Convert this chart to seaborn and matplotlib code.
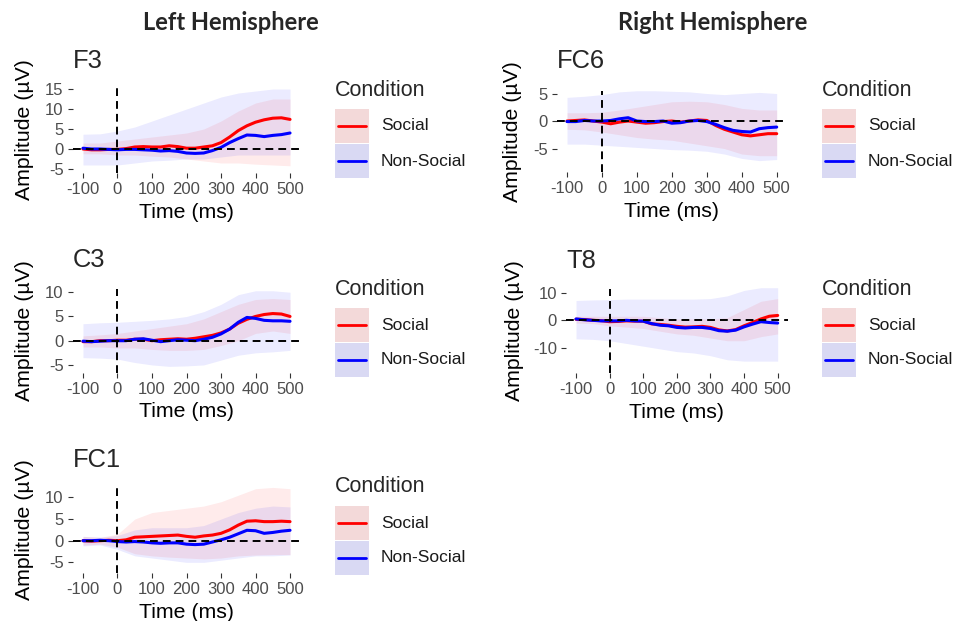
import numpy as np
import pandas as pd
import matplotlib
matplotlib.use('Agg')
import matplotlib.pyplot as plt
from matplotlib.patches import Rectangle
from matplotlib.lines import Line2D
import seaborn as sns

# tiempos (ms): medias cada 25 ms, bandas cada 50 ms
time_ms = list(range(-100, 501, 25))
band_ms = list(range(-100, 501, 50))

# F3
f3_social = [0.0, -0.2, -0.2, -0.1, -0.1, 0.1, 0.5, 0.6, 0.5, 0.5, 0.8, 0.6, 0.2,
             0.2, 0.5, 0.8, 1.6, 3.0, 4.6, 5.8, 6.7, 7.3, 7.7, 7.8, 7.4]
f3_nonsocial = [0.2, 0.0, 0.0, -0.1, -0.2, -0.1, -0.1, -0.2, -0.3, -0.5, -0.4, -0.6, -1.0,
                -1.1, -1.0, -0.4, 0.4, 1.6, 2.6, 3.5, 3.4, 3.1, 3.4, 3.6, 4.0]
f3_social_lo = [-1.2, -1.2, -1.5, -1.5, -1.8, -2.0, -2.5, -3.0, -3.5, -3.5, -3.8, -4.0, -4.2]
f3_social_hi = [1.5, 1.5, 2.0, 2.5, 3.0, 3.5, 4.0, 5.0, 7.0, 9.5, 11.5, 12.5, 12.5]
f3_nonsocial_lo = [-4.0, -4.0, -4.0, -3.5, -3.0, -2.8, -2.5, -2.5, -2.0, -1.5, -1.5, -1.5, -1.5]
f3_nonsocial_hi = [3.7, 3.8, 4.5, 5.5, 7.0, 8.5, 10.0, 11.5, 13.0, 14.0, 14.5, 15.0, 15.0]

# C3
c3_social = [-0.2, -0.2, 0.0, 0.0, 0.1, 0.1, 0.3, 0.3, 0.0, 0.2, 0.3, 0.4, 0.3,
             0.5, 0.8, 1.1, 1.6, 2.4, 3.6, 4.4, 5.0, 5.4, 5.6, 5.5, 5.0]
c3_nonsocial = [-0.1, -0.2, -0.1, 0.0, 0.0, 0.0, 0.3, 0.4, 0.1, -0.2, 0.0, 0.2, 0.1,
                0.0, 0.3, 0.7, 1.4, 2.4, 3.8, 4.8, 4.6, 4.2, 4.1, 4.1, 4.0]
c3_social_lo = [-1.3, -1.3, -1.5, -1.5, -1.8, -2.0, -2.0, -1.8, -1.0, 0.0, 1.5, 2.0, 1.5]
c3_social_hi = [1.0, 1.2, 1.5, 2.0, 2.5, 3.0, 3.5, 4.5, 6.0, 7.5, 8.5, 8.7, 8.5]
c3_nonsocial_lo = [-3.5, -3.6, -3.8, -4.5, -5.0, -5.3, -5.2, -5.0, -4.0, -3.0, -2.5, -2.3, -2.0]
c3_nonsocial_hi = [3.5, 3.7, 3.8, 4.0, 4.2, 4.5, 5.0, 6.0, 7.5, 9.5, 10.3, 10.3, 10.0]

# FC1
fc1_social = [0.0, -0.1, 0.0, 0.1, 0.0, 0.2, 0.8, 0.9, 1.0, 1.1, 1.2, 1.3, 1.0,
              0.8, 1.1, 1.3, 1.7, 2.5, 3.6, 4.5, 4.6, 4.4, 4.4, 4.5, 4.4]
fc1_nonsocial = [0.0, 0.0, 0.1, 0.0, -0.2, -0.3, -0.2, -0.3, -0.5, -0.6, -0.5, -0.5, -0.8,
                 -0.9, -0.8, -0.3, 0.2, 0.8, 1.6, 2.4, 2.3, 1.7, 1.9, 2.2, 2.4]
fc1_social_lo = [-1.0, -0.8, -1.5, -3.0, -3.5, -3.8, -4.0, -4.2, -4.0, -3.5, -3.3, -3.2, -3.2]
fc1_social_hi = [1.0, 0.8, 1.5, 5.0, 6.5, 7.0, 7.5, 8.0, 9.0, 10.5, 12.0, 12.3, 12.0]
fc1_nonsocial_lo = [-1.2, -1.0, -2.0, -3.5, -4.0, -4.5, -5.0, -5.0, -4.5, -4.0, -3.5, -3.5, -3.3]
fc1_nonsocial_hi = [1.0, 0.8, 1.2, 2.5, 3.0, 3.0, 3.0, 3.5, 5.0, 6.5, 7.5, 8.0, 7.8]

# FC6
fc6_social = [0.0, 0.1, 0.2, 0.0, -0.2, -0.5, -0.2, 0.0, -0.2, -0.4, -0.3, -0.1, 0.0,
              -0.2, 0.0, 0.2, 0.1, -0.8, -1.5, -2.0, -2.5, -2.7, -2.5, -2.3, -2.3]
fc6_nonsocial = [-0.1, -0.1, 0.1, 0.0, 0.0, 0.1, 0.4, 0.6, 0.0, -0.1, -0.1, 0.0, -0.4,
                 -0.3, 0.0, 0.1, -0.1, -0.6, -1.2, -1.7, -1.9, -2.0, -1.4, -1.2, -1.1]
fc6_social_lo = [-1.5, -1.6, -2.0, -2.5, -3.0, -3.3, -3.5, -4.0, -4.5, -5.0, -6.0, -6.3, -6.3]
fc6_social_hi = [1.5, 1.5, 1.6, 2.0, 2.5, 3.0, 3.5, 3.6, 3.5, 3.0, 2.3, 2.0, 2.0]
fc6_nonsocial_lo = [-4.2, -4.2, -4.4, -4.6, -4.8, -5.0, -5.2, -5.3, -5.5, -6.0, -6.8, -7.2, -7.0]
fc6_nonsocial_hi = [4.3, 4.5, 4.8, 5.3, 5.5, 5.5, 5.4, 5.3, 5.0, 4.8, 5.0, 5.2, 5.0]

# T8
t8_social = [0.4, 0.3, 0.0, -0.1, -0.5, -0.4, -0.2, -0.3, -0.3, -1.3, -1.5, -1.8, -2.2,
             -2.5, -2.4, -2.2, -2.6, -3.5, -3.9, -3.4, -2.0, -0.8, 0.5, 1.5, 1.8]
t8_nonsocial = [0.5, 0.2, 0.0, -0.2, -0.2, -0.2, 0.0, -0.2, -0.3, -1.2, -1.8, -2.0, -2.6,
                -2.8, -2.6, -2.6, -3.0, -3.8, -4.0, -3.6, -2.4, -1.4, -0.5, -0.8, -1.0]
t8_social_lo = [-1.0, -1.2, -2.0, -2.5, -3.0, -4.0, -5.0, -5.5, -6.5, -7.5, -7.5, -6.0, -5.0]
t8_social_hi = [1.5, 1.5, 1.5, 1.5, 1.5, 1.0, 0.5, 0.5, 0.5, 1.0, 4.0, 7.0, 8.0]
t8_nonsocial_lo = [-6.8, -7.0, -7.5, -8.5, -9.5, -10.5, -11.5, -12.0, -13.0, -14.5, -15.0, -15.0, -15.0]
t8_nonsocial_hi = [7.3, 7.5, 7.6, 7.8, 7.8, 7.8, 7.8, 7.8, 8.0, 9.0, 11.0, 12.0, 12.0]

conditions = ['Social', 'Non-Social']
colores = {'Social': 'red', 'Non-Social': 'blue'}

# posiciones en pixeles: (izq, arriba, der, abajo)
paneles = [
    ('F3', f3_social, f3_nonsocial, f3_social_lo, f3_social_hi, f3_nonsocial_lo, f3_nonsocial_hi,
     dict(box=(72.6, 87, 300.4, 173), ylim=(-6, 15.5), yticks=[-5, 0, 5, 10, 15],
          ylab_x=25, title_y=68, leg=(335, 90))),
    ('C3', c3_social, c3_nonsocial, c3_social_lo, c3_social_hi, c3_nonsocial_lo, c3_nonsocial_hi,
     dict(box=(72.6, 289.3, 300.4, 372.7), ylim=(-6.6, 10.6), yticks=[-5, 0, 5, 10],
          ylab_x=25, title_y=267, leg=(335, 289))),
    ('FC1', fc1_social, fc1_nonsocial, fc1_social_lo, fc1_social_hi, fc1_nonsocial_lo, fc1_nonsocial_hi,
     dict(box=(72.6, 486.1, 300.4, 573.2), ylim=(-7.5, 12.6), yticks=[-5, 0, 5, 10],
          ylab_x=25, title_y=467, leg=(335, 487))),
    ('FC6', fc6_social, fc6_nonsocial, fc6_social_lo, fc6_social_hi, fc6_nonsocial_lo, fc6_nonsocial_hi,
     dict(box=(556.5, 90.75, 787.2, 172.2), ylim=(-9.3, 5.5), yticks=[-5, 0, 5],
          ylab_x=513, title_y=68, leg=(822, 90))),
    ('T8', t8_social, t8_nonsocial, t8_social_lo, t8_social_hi, t8_nonsocial_lo, t8_nonsocial_hi,
     dict(box=(565.9, 288.5, 787.8, 373.4), ylim=(-19.5, 11.7), yticks=[-10, 0, 10],
          ylab_x=515, title_y=268, leg=(822, 289))),
]

sns.set_theme(style='white')
plt.rcParams['font.family'] = ['Liberation Sans', 'DejaVu Sans']
plt.rcParams['axes.unicode_minus'] = False

W, H = 969, 621
fig = plt.figure(figsize=(W / 100, H / 100), dpi=100)


def rect(l, t, r, b):
    return [l / W, 1 - b / H, (r - l) / W, (b - t) / H]


def dibujar_leyenda(x, cy):
    fig.text(x / W, 1 - cy / H, 'Condition', fontsize=15.5, va='center', ha='left')
    for i, cond in enumerate(conditions):
        top = cy + 19 + i * 35
        fig.add_artist(Rectangle((x / W, 1 - (top + 34) / H), 34 / W, 34 / H,
                                 transform=fig.transFigure, facecolor='#F2F2F2', lw=0))
        fig.add_artist(Rectangle((x / W, 1 - (top + 34) / H), 34 / W, 34 / H,
                                 transform=fig.transFigure, facecolor=colores[cond], alpha=0.1, lw=0))
        fig.add_artist(Line2D([(x + 3) / W, (x + 31) / W], [1 - (top + 17) / H] * 2,
                              color=colores[cond], lw=2, transform=fig.transFigure))
        fig.text((x + 46) / W, 1 - (top + 17) / H, cond, fontsize=12.5, va='center', color='#1A1A1A')


for nombre, soc, non, soc_lo, soc_hi, non_lo, non_hi, cfg in paneles:
    l, t, r, b = cfg['box']
    ax = fig.add_axes(rect(l, t, r, b))
    ax.fill_between(band_ms, soc_lo, soc_hi, color='red', alpha=0.08, lw=0)
    ax.fill_between(band_ms, non_lo, non_hi, color='blue', alpha=0.08, lw=0)

    df = pd.DataFrame({
        'Time': time_ms * 2,
        'Amplitude': soc + non,
        'Condition': ['Social'] * len(time_ms) + ['Non-Social'] * len(time_ms),
    })
    sns.lineplot(data=df, x='Time', y='Amplitude', hue='Condition', hue_order=conditions,
                 palette=colores, lw=2.2, legend=False, ax=ax)

    ax.axhline(0, color='black', ls=(0, (4.0, 2.6)), lw=1.4, zorder=5)
    ax.axvline(0, color='black', ls=(0, (4.0, 2.6)), lw=1.4, zorder=5)

    ax.set_xlim(-130, 530)
    ax.set_ylim(*cfg['ylim'])
    ax.set_xticks(range(-100, 501, 100))
    ax.set_yticks(cfg['yticks'])
    sns.despine(ax=ax, left=True, bottom=True)
    ax.tick_params(length=3.9, width=0.8, color='#333333', labelcolor='#4D4D4D',
                   labelsize=12, pad=2.5, bottom=True, left=True)

    ax.set_xlabel('Time (ms)', fontsize=15.3, va='center', color='black')
    ax.xaxis.set_label_coords(0.5, -39 / (b - t))
    ax.set_ylabel('Amplitude (µV)', fontsize=15.3, va='center', color='black')
    ax.yaxis.set_label_coords((cfg['ylab_x'] - l) / (r - l), 0.5)

    fig.text(l / W, 1 - cfg['title_y'] / H, nombre, fontsize=18.4, va='baseline', ha='left')
    dibujar_leyenda(*cfg['leg'])

fig.text(231 / W, 1 - 22 / H, 'Left Hemisphere', fontsize=17, fontweight='bold',
         family=['Lato', 'DejaVu Sans'], ha='center', va='center')
fig.text(713 / W, 1 - 22 / H, 'Right Hemisphere', fontsize=17, fontweight='bold',
         family=['Lato', 'DejaVu Sans'], ha='center', va='center')

plt.savefig('out.png', dpi=100)
